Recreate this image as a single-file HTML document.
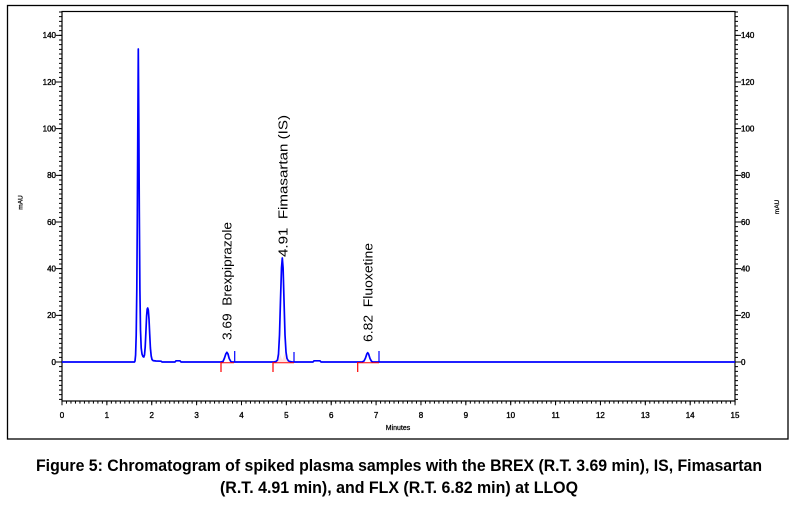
<!DOCTYPE html>
<html>
<head>
<meta charset="utf-8">
<style>
html,body{margin:0;padding:0;background:#fff;}
body{width:797px;height:505px;overflow:hidden;}
svg{display:block;}
.t{font-family:"Liberation Sans",Arial,sans-serif;font-size:8px;fill:#000;stroke:#000;stroke-width:0.35;}
.pk{font-family:"Liberation Sans",Arial,sans-serif;font-size:13px;fill:#000;}
.cap{font-family:"Liberation Sans",Arial,sans-serif;font-weight:bold;font-size:16.5px;fill:#000;}
</style>
</head>
<body>
<svg width="797" height="505" viewBox="0 0 797 505" xmlns="http://www.w3.org/2000/svg">
  <rect x="0" y="0" width="797" height="505" fill="#fff"/>
  <!-- outer frame -->
  <rect x="7.5" y="5.5" width="780.5" height="433.5" fill="none" stroke="#000" stroke-width="1.3"/>
  <!-- plot frame -->
  <rect x="62" y="11.5" width="673" height="389.5" fill="none" stroke="#000" stroke-width="1.2"/>

  <!-- x ticks -->
  <line x1="61.5" y1="402.5" x2="736" y2="402.5" stroke="#000" stroke-width="2.2" stroke-dasharray="1 3.487"/>
  <line x1="61.5" y1="403" x2="736" y2="403" stroke="#000" stroke-width="4.4" stroke-dasharray="1 43.87"/>
  <!-- left y ticks -->
  <line x1="60.5" y1="11.5" x2="60.5" y2="400" stroke="#000" stroke-width="3" stroke-dasharray="1 3.6667"/>
  <line x1="59" y1="34.83" x2="59" y2="363" stroke="#000" stroke-width="6" stroke-dasharray="1 45.667"/>
  <!-- right y ticks -->
  <line x1="736.5" y1="11.5" x2="736.5" y2="400" stroke="#000" stroke-width="3" stroke-dasharray="1 3.6667"/>
  <line x1="738" y1="34.83" x2="738" y2="363" stroke="#000" stroke-width="6" stroke-dasharray="1 45.667"/>

  <!-- left y labels -->
  <g class="t" text-anchor="end">
    <text x="56" y="364.8">0</text>
    <text x="56" y="318.1">20</text>
    <text x="56" y="271.5">40</text>
    <text x="56" y="224.8">60</text>
    <text x="56" y="178.1">80</text>
    <text x="56" y="131.5">100</text>
    <text x="56" y="84.8">120</text>
    <text x="56" y="38.1">140</text>
  </g>
  <!-- right y labels -->
  <g class="t" text-anchor="start">
    <text x="741" y="364.8">0</text>
    <text x="741" y="318.1">20</text>
    <text x="741" y="271.5">40</text>
    <text x="741" y="224.8">60</text>
    <text x="741" y="178.1">80</text>
    <text x="741" y="131.5">100</text>
    <text x="741" y="84.8">120</text>
    <text x="741" y="38.1">140</text>
  </g>
  <!-- x labels -->
  <g class="t" text-anchor="middle">
    <text x="62" y="418">0</text>
    <text x="106.9" y="418">1</text>
    <text x="151.7" y="418">2</text>
    <text x="196.6" y="418">3</text>
    <text x="241.5" y="418">4</text>
    <text x="286.4" y="418">5</text>
    <text x="331.2" y="418">6</text>
    <text x="376.1" y="418">7</text>
    <text x="421" y="418">8</text>
    <text x="465.8" y="418">9</text>
    <text x="510.7" y="418">10</text>
    <text x="555.6" y="418">11</text>
    <text x="600.4" y="418">12</text>
    <text x="645.3" y="418">13</text>
    <text x="690.2" y="418">14</text>
    <text x="735" y="418">15</text>
  </g>
  <text x="398" y="430" text-anchor="middle" font-family="Liberation Sans, Arial, sans-serif" font-size="7px" fill="#000" stroke="#000" stroke-width="0.25">Minutes</text>
  <text transform="translate(22.5,202.5) rotate(-90)" text-anchor="middle" font-family="Liberation Sans, Arial, sans-serif" font-size="6.5px" fill="#000" stroke="#000" stroke-width="0.25">mAU</text>
  <text transform="translate(779,207) rotate(-90)" text-anchor="middle" font-family="Liberation Sans, Arial, sans-serif" font-size="6.5px" fill="#000" stroke="#000" stroke-width="0.25">mAU</text>

  <!-- faint fill under IS peak -->
  <path fill="#ffb0b0" fill-opacity="0.35" stroke="none" d="M277,362 L279,352 L282.3,360 L285.5,352 L288,362Z"/>

  <!-- trace -->
  <path fill="none" stroke="#0000ff" stroke-width="1.7" stroke-linejoin="round"
    d="M62,362 L134.5,362 L135,361 L135.6,355 L136.2,335 L136.8,290 L137.3,220 L137.8,130 L138.3,49 L138.8,120 L139.3,210 L139.9,290 L140.5,330 L141.2,348 L142,354 L143,356.5 L143.8,357 L144.5,355 L145.2,347 L145.9,332 L146.6,316 L147.2,309 L147.7,308 L148.3,310 L149,319 L149.7,334 L150.4,348 L151.2,356 L152,359.5 L153,360.6 L156,361 L161,361.2 L162,362 L175,362 L176,360.8 L180,360.8 L181,362
    L221,362 L223,361.5 L224.5,358 L225.8,354 L226.9,352.3 L228,354 L229.2,358.5 L230.8,361.5 L232,362
    L274,362 L276,361.5 L277.5,360 L278.5,354 L279.5,335 L280.5,300 L281.5,268 L282.3,258 L283.1,268 L284,300 L285,335 L286,352 L287,358.5 L288.5,361 L290,361.5 L292,362
    L313,362 L314,360.8 L320,360.8 L321,362
    L362,362 L364,361 L365.5,358 L366.8,354 L367.7,352.7 L368.6,354 L370,358.5 L371.5,361.3 L373,362 L735,362"/>
  <!-- peak end markers -->
  <path fill="none" stroke="#0000ff" stroke-width="1.2" d="M234.7,362V351 M294,362V352 M379,362V351"/>
  <!-- red baseline markers -->
  <path fill="none" stroke="#ff0000" stroke-width="1.2" d="M221,362V372 M273,362V372 M357.7,362V372"/>
  <path fill="none" stroke="#ff0000" stroke-width="1" d="M221,362.8H234 M273,362.8H294 M357.7,362.8H379"/>

  <!-- peak labels -->
  <text class="pk" transform="translate(231.5,340) rotate(-90)" textLength="118" lengthAdjust="spacingAndGlyphs">3.69&#160;&#160;Brexpiprazole</text>
  <text class="pk" transform="translate(287.5,257) rotate(-90)" textLength="142" lengthAdjust="spacingAndGlyphs">4.91&#160;&#160;Fimasartan (IS)</text>
  <text class="pk" transform="translate(372.5,342) rotate(-90)" textLength="99" lengthAdjust="spacingAndGlyphs">6.82&#160;&#160;Fluoxetine</text>

  <!-- caption -->
  <text class="cap" x="36" y="471" textLength="726" lengthAdjust="spacingAndGlyphs">Figure 5: Chromatogram of spiked plasma samples with the BREX (R.T. 3.69 min), IS, Fimasartan</text>
  <text class="cap" x="220" y="493" textLength="358" lengthAdjust="spacingAndGlyphs">(R.T. 4.91 min), and FLX (R.T. 6.82 min) at LLOQ</text>
</svg>
</body>
</html>
